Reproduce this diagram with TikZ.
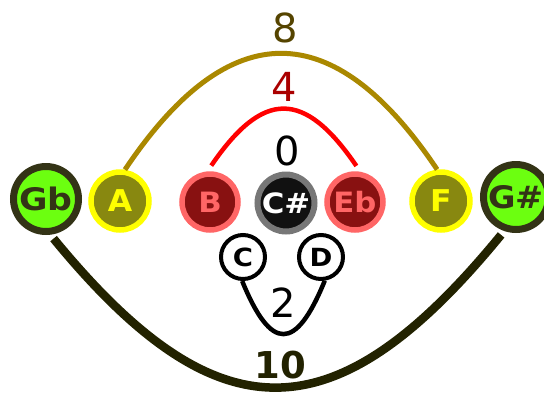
\documentclass[tikz,border=0pt]{standalone}
\usepackage{graphicx}
\usepackage{fontspec}
\setmainfont{DejaVu Sans}
\definecolor{gbfill}{HTML}{6CFF10}
\definecolor{gbdraw}{HTML}{333316}
\definecolor{afill}{HTML}{888810}
\definecolor{adraw}{HTML}{FFFF00}
\definecolor{bfill}{HTML}{881111}
\definecolor{bdraw}{HTML}{FF6666}
\definecolor{csfill}{HTML}{111111}
\definecolor{csdraw}{HTML}{777777}
\definecolor{eightline}{HTML}{AA8800}
\definecolor{eighttext}{HTML}{554400}
\definecolor{fourtext}{HTML}{AA0000}
\definecolor{tenline}{HTML}{222200}
\newcommand\notelbl[3]{\scalebox{#1}[1]{\bfseries\fontsize{#2}{#2}\selectfont #3}}
\tikzset{
  note/.style={circle, inner sep=0pt},
  greennote/.style={note, fill=gbfill, draw=gbdraw, line width=7pt, minimum size=65pt, text=gbdraw},
  yellownote/.style={note, fill=afill, draw=adraw, line width=5.5pt, minimum size=58pt, text=adraw},
  rednote/.style={note, fill=bfill, draw=bdraw, line width=5.5pt, minimum size=56pt, text=bdraw},
  rootnote/.style={note, fill=csfill, draw=csdraw, line width=6pt, minimum size=57pt, text=white},
  smallnote/.style={note, fill=white, draw=black, line width=4pt, minimum size=44pt, text=black},
  arc/.style={line cap=butt},
  num/.style={font=\fontsize{40}{40}\selectfont, inner sep=0pt}
}
\begin{document}
\begin{tikzpicture}[x=1pt, y=-1pt]
\useasboundingbox (0,0) rectangle (544,392);
\node[greennote] (Gb) at (46,199) {\notelbl{1.12}{31}{Gb}};
\node[yellownote] (A) at (120,201) {\notelbl{1.05}{30}{A}};
\node[rednote] (B) at (210,202) {\notelbl{1.1}{28}{B}};
\node[rootnote] (Cs) at (286,203) {\notelbl{1.1}{28}{C\#}};
\node[rednote] (Eb) at (355,202) {\notelbl{1.1}{28}{Eb}};
\node[yellownote] (F) at (441,201) {\notelbl{1.05}{30}{F}};
\node[greennote] (Gs) at (516,197) {\notelbl{1.08}{31}{G\#}};
\node[smallnote] (C) at (243,257) {\notelbl{1.1}{25}{C}};
\node[smallnote] (D) at (321,257) {\notelbl{1.1}{25}{D}};

\draw[arc, draw=eightline, line width=5pt] (A.81) .. controls +(104,-155) and +(-104,-155) .. (F.97);
\draw[arc, draw=red, line width=4.5pt, shorten <=7pt, shorten >=7pt] (B.95) .. controls +(56,-82) and +(-56,-82) .. (Eb.80);
\draw[arc, draw=black, line width=4.5pt] (C.-92) .. controls +(29,71) and +(-29,71) .. (D.-81);
\draw[arc, draw=tenline, line width=8.5pt, shorten <=5pt, shorten >=5pt] (Gb.-83) .. controls +(168,205) and +(-168,205) .. (Gs.-109);

\node[num, text=eighttext] (l8) at (285,28) {8};
\node[num, text=fourtext] (l4) at (284,87) {4};
\node[num, text=black] (l0) at (287,151) {0};
\node[num, text=black] (l2) at (283,303) {2};
\node[num, text=tenline, font=\bfseries\fontsize{37}{37}\selectfont] (l10) at (280,365) {10};
\end{tikzpicture}
\end{document}
